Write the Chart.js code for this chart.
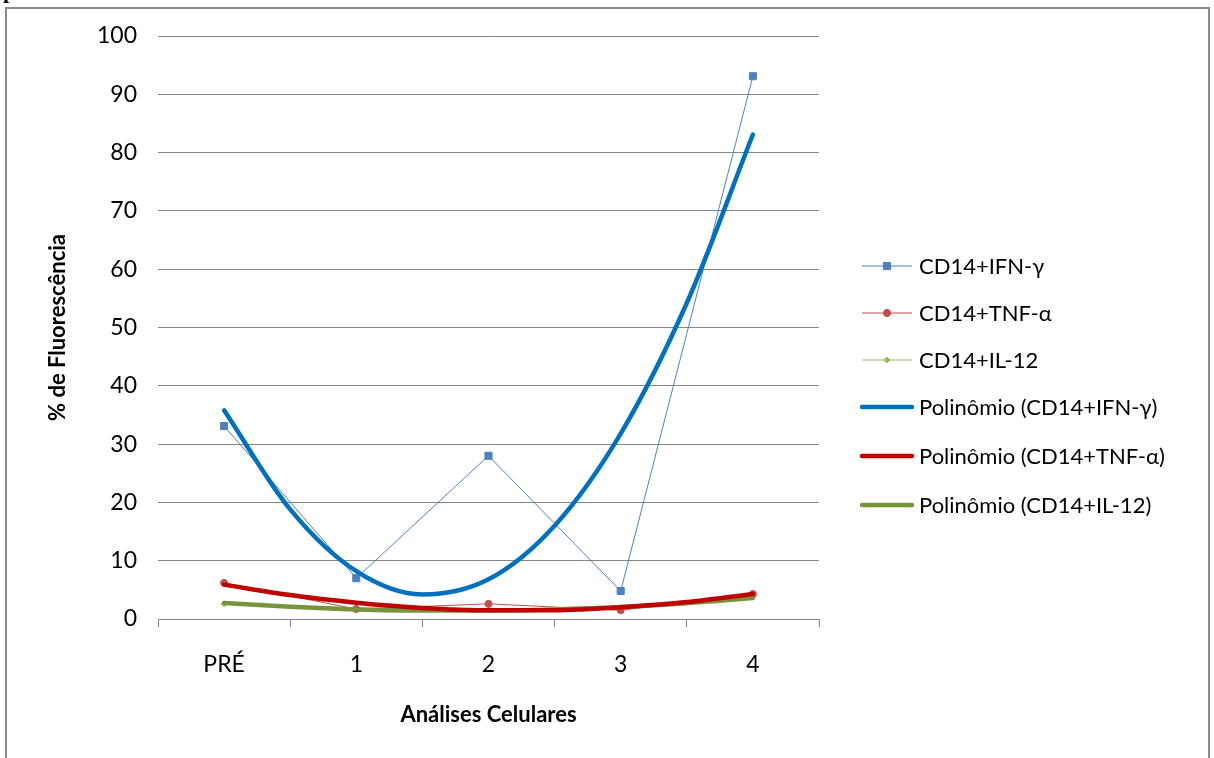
<!DOCTYPE html>
<html lang="pt">
<head>
<meta charset="utf-8">
<title>% de Fluorescência</title>
<script src="https://cdn.jsdelivr.net/npm/chart.js@4/dist/chart.umd.min.js"></script>
<style>
    body { margin: 0; background: #fff; width: 1214px; height: 758px; overflow: hidden; position: relative; }
    .legenda-topo { position: absolute; left: 3px; top: -20px; font: bold 22px "Liberation Serif", serif; line-height: 22px; color: #000; }
    .moldura { position: absolute; left: 5px; top: 7px; width: 1205px; height: 760px; border: 2px solid #8a8a8a; box-sizing: border-box; background: transparent; }
    .grafico { position: absolute; left: 7px; top: 9px; width: 1202px; height: 749px; }
</style>
</head>
<body>
<div class="legenda-topo">pacientes.</div>
<div class="moldura"></div>
<div class="grafico"><canvas id="fluorCanvas" width="1202" height="749"></canvas></div>
<script>
    // categorias das análises
    var categorias = ['PRÉ', '1', '2', '3', '4'];

    // % de fluorescência por marcador
    var ifnGama = [33.1, 7.0, 28.0, 4.8, 93.1];
    var tnfAlfa = [6.2, 1.7, 2.6, 1.5, 4.3];
    var il12 = [2.6, 1.9, 1.6, 1.7, 3.8];

    // linhas de tendência polinomial, lidas a cada meia análise
    var posTendencia = [0, 0.5, 1, 1.5, 2, 2.5, 3, 3.5, 4];
    var tendIfn = [35.8, 18.8, 8.2, 4.2, 6.8, 16.0, 31.8, 54.2, 83.1];
    var tendTnf = [5.9, 4.1, 2.8, 1.9, 1.5, 1.5, 2.0, 2.9, 4.3];
    var tendIl12 = [2.75, 2.1, 1.65, 1.45, 1.45, 1.65, 2.05, 2.7, 3.6];

    var fonte = 'Lato, "Open Sans", sans-serif';
    var cinza = '#868686';

    var pontos = function (ys) {
        return posTendencia.map(function (x, i) { return { x: x, y: ys[i] }; });
    };

    var serie = function (label, data, cor, estilo, raio) {
        return {
            label: label, data: data, order: 1,
            borderColor: cor, backgroundColor: cor, borderWidth: 1,
            pointStyle: estilo, pointRadius: raio, pointHoverRadius: raio,
            pointBorderWidth: 1, tension: 0
        };
    };

    var tendencia = function (label, data, cor) {
        return {
            label: label, data: pontos(data), order: 0, xAxisID: 'xt',
            borderColor: cor, backgroundColor: cor, borderWidth: 4.5,
            borderCapStyle: 'round', borderJoinStyle: 'round',
            pointRadius: 0, cubicInterpolationMode: 'monotone', tendencia: true
        };
    };

    // legenda à direita: linha + marcador como no gráfico
    var legendaLateral = {
        id: 'legendaLateral',
        afterDraw: function (chart) {
            var ctx = chart.ctx;
            var x0 = 855, x1 = 905, xt = 912;
            var ys = [257, 304, 351, 398, 447, 496];
            ctx.save();
            ctx.font = '22px ' + fonte;
            ctx.textBaseline = 'middle';
            chart.data.datasets.forEach(function (ds, i) {
                var y = ys[i];
                ctx.strokeStyle = ds.borderColor;
                ctx.lineWidth = ds.borderWidth;
                ctx.lineCap = ds.tendencia ? 'round' : 'butt';
                ctx.beginPath();
                ctx.moveTo(x0, y);
                ctx.lineTo(x1, y);
                ctx.stroke();
                if (!ds.tendencia) {
                    Chart.helpers.drawPoint(ctx, {
                        pointStyle: ds.pointStyle, radius: ds.pointRadius, borderWidth: 1
                    }, (x0 + x1) / 2, y);
                    ctx.fillStyle = ds.backgroundColor;
                    ctx.fill();
                }
                ctx.fillStyle = '#000';
                ctx.fillText(ds.label, xt, y + 1);
            });
            ctx.restore();
        }
    };

    window.onload = function () {
        var ctx = document.getElementById('fluorCanvas').getContext('2d');
        window.fluorChart = new Chart(ctx, {
            type: 'line',
            data: {
                labels: categorias,
                datasets: [
                    serie('CD14+IFN-γ', ifnGama, '#4F81BD', 'rect', 5),
                    serie('CD14+TNF-α', tnfAlfa, '#C0504D', 'circle', 3.5),
                    serie('CD14+IL-12', il12, '#9BBB59', 'rectRot', 3),
                    tendencia('Polinômio (CD14+IFN-γ)', tendIfn, '#0070C0'),
                    tendencia('Polinômio (CD14+TNF-α)', tendTnf, '#C00000'),
                    tendencia('Polinômio (CD14+IL-12)', tendIl12, '#77933C')
                ]
            },
            options: {
                responsive: false,
                animation: false,
                layout: { padding: { left: 0, right: 390, top: 27, bottom: 0 } },
                plugins: {
                    legend: { display: false },
                    tooltip: { enabled: false }
                },
                scales: {
                    x: {
                        type: 'category',
                        offset: true,
                        afterFit: function (s) { s.height = 139; },
                        grid: { offset: true, drawOnChartArea: false, drawTicks: true, tickLength: 8, color: cinza, lineWidth: 1 },
                        border: { display: true, color: cinza, width: 1 },
                        ticks: { color: '#000', padding: 24, font: { family: fonte, size: 23 } },
                        title: { display: true, text: 'Análises Celulares', color: '#000', padding: { top: 0, bottom: 30 }, font: { family: fonte, size: 22, weight: 'bold' } }
                    },
                    xt: {
                        type: 'linear', display: false, min: -0.5, max: 4.5
                    },
                    y: {
                        min: 0, max: 100,
                        afterFit: function (s) {
                            s.width = 151;
                            s.paddingTop = 0;
                            s.paddingBottom = 0;
                        },
                        ticks: { stepSize: 10, color: '#000', padding: 21, font: { family: fonte, size: 23 } },
                        grid: { color: cinza, lineWidth: 1, drawTicks: false },
                        border: { display: false },
                        title: { display: true, text: '% de Fluorescência', color: '#000', padding: { top: 38 }, font: { family: fonte, size: 22, weight: 'bold' } }
                    }
                }
            },
            plugins: [legendaLateral]
        });
    };
</script>
</body>
</html>
